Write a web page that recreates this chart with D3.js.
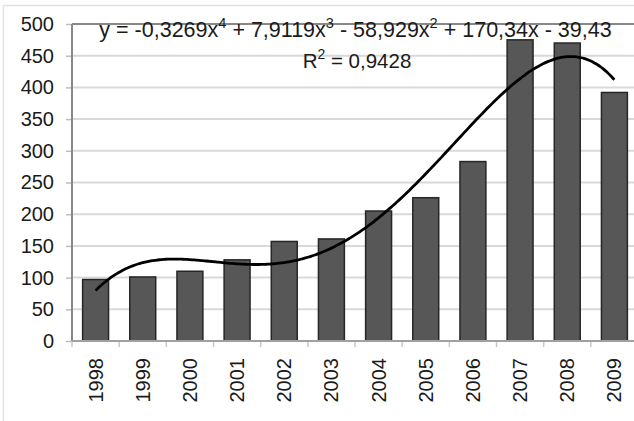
<!DOCTYPE html>
<html>
<head>
<meta charset="utf-8">
<script src="https://cdn.jsdelivr.net/npm/d3@7/dist/d3.min.js"></script>
<style>
  html, body { margin: 0; padding: 0; background: #fff; }
  svg { display: block; }
  text { font-family: "Liberation Sans", Arial, sans-serif; fill: #1a1a1a; }
</style>
</head>
<body>
<svg id="chart" width="634" height="421"></svg>
<script>
const years = ["1998","1999","2000","2001","2002","2003","2004","2005","2006","2007","2008","2009"];
const values = [97, 101, 110, 128, 157, 161, 205, 226, 283, 475, 470, 392];
const yTicks = [0, 50, 100, 150, 200, 250, 300, 350, 400, 450, 500];
// polynomial trendline coefficients as shown in the chart (x^4 ... x^0), x = 1..12
const trendCoef = [-0.3269, 7.9119, -58.929, 170.34, -39.43];
const equationParts = [
  ["y = -0,3269x", false], ["4", true], [" + 7,9119x", false], ["3", true],
  [" - 58,929x", false], ["2", true], [" + 170,34x - 39,43", false]
];
const r2Parts = [["R", false], ["2", true], [" = 0,9428", false]];

(function () {
const svg = d3.select("#chart");
const pLeft = 72, pRight = 638, pTop = 24, pBottom = 341;

// outer border (bottom and right edges fall outside the picture)
svg.append("rect").attr("x", 3.5).attr("y", 5.5).attr("width", 660).attr("height", 430)
  .attr("fill", "none").attr("stroke", "#e3e3e3").attr("stroke-width", 1.5);

const x = d3.scaleBand().domain(years).range([pLeft, pRight]).paddingInner(0.45).paddingOuter(0.225);
const xb = d3.scaleBand().domain(years).range([pLeft, pRight]);
const y = d3.scaleLinear().domain([0, 500]).range([pBottom, pTop]);

// gridlines
svg.append("g").selectAll("line").data(yTicks.filter(d => d > 0 && d < 500)).join("line")
  .attr("x1", pLeft).attr("x2", pRight)
  .attr("y1", d => y(d)).attr("y2", d => y(d))
  .attr("stroke", "#d9d9d9").attr("stroke-width", 2);

// y axis
const yAxis = svg.append("g").attr("transform", `translate(${pLeft},0)`)
  .call(d3.axisLeft(y).tickValues(yTicks).tickSize(6).tickPadding(12));
yAxis.select(".domain").remove();
yAxis.selectAll(".tick line").attr("stroke", "#bdbdbd").attr("stroke-width", 1.5);
yAxis.selectAll(".tick text").attr("font-size", 20).attr("fill", "#1a1a1a")
  .style("font-family", '"Liberation Sans", Arial, sans-serif');

// x axis ticks at category boundaries
svg.append("g").selectAll("line").data(years).join("line")
  .attr("x1", d => xb(d)).attr("x2", d => xb(d))
  .attr("y1", pBottom).attr("y2", pBottom + 6)
  .attr("stroke", "#c8c8c8").attr("stroke-width", 1.5);

// x labels
svg.append("g").selectAll("text").data(years).join("text")
  .attr("transform", d => `translate(${x(d) + x.bandwidth() / 2 + 7},358) rotate(-90)`)
  .attr("text-anchor", "end").attr("font-size", 20)
  .text(d => d);

// bars
svg.append("g").selectAll("rect").data(values).join("rect")
  .attr("x", (d, i) => x(years[i]))
  .attr("y", d => y(d))
  .attr("width", x.bandwidth())
  .attr("height", d => y(0) - y(d))
  .attr("fill", "#575757").attr("stroke", "#262626").attr("stroke-width", 1.5);

// plot border lines (top + left) and x axis line
svg.append("line").attr("x1", pLeft).attr("x2", pRight).attr("y1", pTop).attr("y2", pTop)
  .attr("stroke", "#888").attr("stroke-width", 2);
svg.append("line").attr("x1", pLeft).attr("x2", pLeft).attr("y1", pTop).attr("y2", pBottom)
  .attr("stroke", "#888").attr("stroke-width", 2);
svg.append("line").attr("x1", pLeft).attr("x2", pRight).attr("y1", pBottom).attr("y2", pBottom)
  .attr("stroke", "#a0a0a0").attr("stroke-width", 2);

// trendline
const xc = d3.scaleLinear().domain([1, 12])
  .range([x(years[0]) + x.bandwidth() / 2, x(years[11]) + x.bandwidth() / 2]);
const poly = t => trendCoef.reduce((acc, c) => acc * t + c, 0);
const pts = d3.range(1, 12.0001, 0.05).map(t => [xc(t), y(poly(t))]);
svg.append("path").datum(pts)
  .attr("d", d3.line().curve(d3.curveBasis))
  .attr("fill", "none").attr("stroke", "#000").attr("stroke-width", 2.8);

// equation labels
function richText(parts, cx, by, size) {
  const t = svg.append("text").attr("x", cx).attr("y", by).attr("text-anchor", "middle")
    .attr("font-size", size);
  parts.forEach(([s, sup]) => {
    const sp = t.append("tspan").text(s);
    if (sup) sp.attr("font-size", size * 0.68).attr("baseline-shift", "62%");
  });
  return t;
}
richText(equationParts, 355.5, 37, 21.5);
richText(r2Parts, 357, 68, 20.5);
})();
</script>
</body>
</html>
